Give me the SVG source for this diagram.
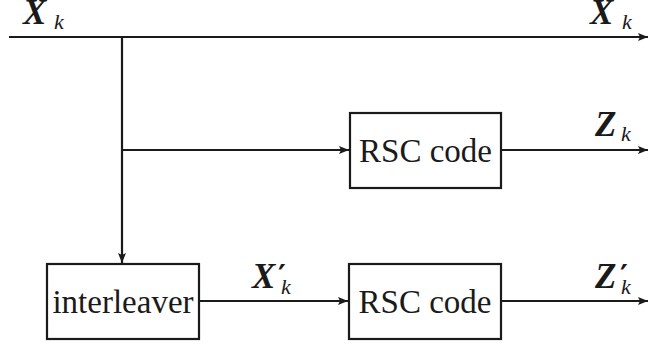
<svg xmlns="http://www.w3.org/2000/svg" width="649" height="345" viewBox="0 0 649 345">
<style>
.box{fill:#fff;stroke:#1a1a1a;stroke-width:2.2}
.ln{fill:none;stroke:#1a1a1a;stroke-width:2.2}
.t{font-family:"Liberation Serif","Times New Roman",serif;font-size:33px;fill:#1a1a1a}
.m{font-family:"Liberation Serif","Times New Roman",serif;font-size:35px;font-weight:bold;font-style:italic;fill:#1a1a1a}
.s{font-size:22px;font-weight:normal}
.p{font-family:"DejaVu Sans",sans-serif;font-size:30px;font-style:normal}
</style>
<defs>
<marker id="ah" markerWidth="10" markerHeight="8" refX="10" refY="4" orient="auto" markerUnits="userSpaceOnUse">
<path d="M0,0 L10,4 L0,8 L2,4 Z" fill="#1a1a1a"/>
</marker>
</defs>
<g id="connectors">
<line class="ln" x1="9" y1="37" x2="648" y2="37" marker-end="url(#ah)"/>
<line class="ln" x1="122" y1="37" x2="122" y2="263" marker-end="url(#ah)"/>
<line class="ln" x1="122" y1="150" x2="349" y2="150" marker-end="url(#ah)"/>
<line class="ln" x1="501" y1="150" x2="648" y2="150" marker-end="url(#ah)"/>
<line class="ln" x1="199" y1="301" x2="348" y2="301" marker-end="url(#ah)"/>
<line class="ln" x1="501" y1="301" x2="648" y2="301" marker-end="url(#ah)"/>
</g>
<g id="rsc1">
<rect class="box" x="350" y="113" width="151" height="75"/>
<text class="t" x="425.5" y="162" text-anchor="middle">RSC code</text>
</g>
<g id="interleaver">
<rect class="box" x="47" y="264" width="152" height="75"/>
<text class="t" x="123" y="313" text-anchor="middle">interleaver</text>
</g>
<g id="rsc2">
<rect class="box" x="349" y="264" width="152" height="75"/>
<text class="t" x="425" y="313" text-anchor="middle">RSC code</text>
</g>
<g id="labels">
<text class="m" x="23" y="24">X<tspan class="s" x="54" y="29">k</tspan></text>
<text class="m" x="590" y="24">X<tspan class="s" x="622" y="29">k</tspan></text>
<text class="m" x="595" y="136">Z<tspan class="s" x="621" y="141">k</tspan></text>
<text class="m" x="252" y="288">X<tspan class="p" x="278" y="286">′</tspan><tspan class="s" x="281" y="294">k</tspan></text>
<text class="m" x="595" y="288">Z<tspan class="p" x="620" y="286">′</tspan><tspan class="s" x="621" y="294">k</tspan></text>
</g>
</svg>
